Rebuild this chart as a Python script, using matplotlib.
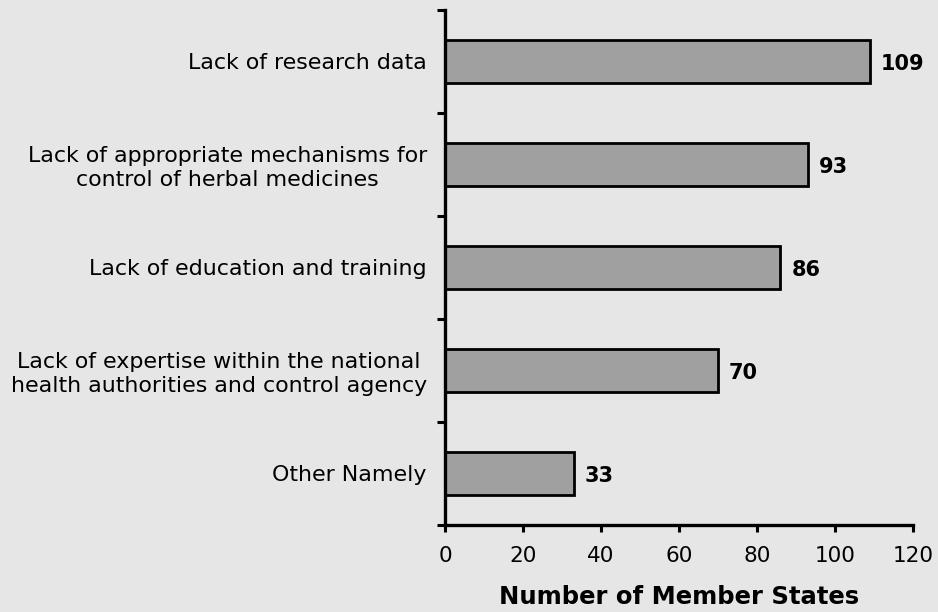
import matplotlib.pyplot as plt
import numpy as np

# data
categories = ['Lack of research data',
              'Lack of appropriate mechanisms for\ncontrol of herbal medicines',
              'Lack of education and training',
              'Lack of expertise within the national\nhealth authorities and control agency',
              'Other Namely']
values = [109, 93, 86, 70, 33]
x_ticks = [0, 20, 40, 60, 80, 100, 120]

bg = '#e6e6e6'
fig = plt.figure(figsize=(9.38, 6.12), dpi=100, facecolor=bg)
ax = fig.add_axes([0.4744, 0.1422, 0.4989, 0.8415], facecolor=bg)

y = np.arange(len(categories))
ax.barh(y, values, height=0.41, color='#a0a0a0', edgecolor='black', linewidth=2)
for yi, v in zip(y, values):
    ax.text(v + 2.8, yi + 0.02, str(v), va='center', ha='left', fontsize=15, fontweight='bold')

ax.set_ylim(len(categories) - 0.5, -0.5)
ax.set_xlim(0, 120)
ax.set_yticks(y)
ax.set_yticklabels(categories, fontsize=15.9, multialignment='center')
ax.set_yticks(np.arange(len(categories) + 1) - 0.5, minor=True)
ax.tick_params(axis='y', which='major', length=0, pad=13)
ax.tick_params(axis='y', which='minor', length=6, width=2.2, direction='out')
ax.set_xticks(x_ticks)
ax.tick_params(axis='x', labelsize=15.5, length=5, width=2.2, direction='out', pad=10)

for s in ['top', 'right']:
    ax.spines[s].set_visible(False)
for s in ['left', 'bottom']:
    ax.spines[s].set_linewidth(2.4)

ax.set_xlabel('Number of Member States', fontsize=17.5, fontweight='bold', labelpad=14)

plt.savefig('out.png', dpi=100, facecolor=bg)
